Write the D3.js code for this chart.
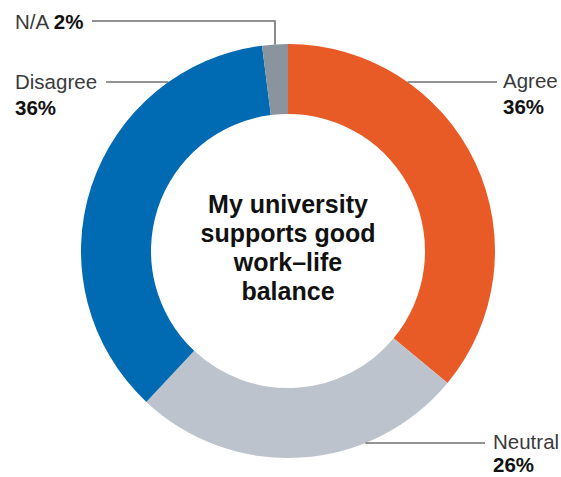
<!DOCTYPE html>
<html>
<head>
<meta charset="utf-8">
<script src="https://cdn.jsdelivr.net/npm/d3@7"></script>
<style>
  html, body { margin: 0; padding: 0; background: #fff; }
  svg { display: block; font-family: "Liberation Sans", Arial, sans-serif; }
</style>
</head>
<body>
<svg id="chart" width="561" height="477"></svg>
<script>
// Survey responses: "My university supports good work–life balance"
const categories = ["Agree", "Neutral", "Disagree", "N/A"];
const values = [36, 26, 36, 2];
const valueLabels = ["36%", "26%", "36%", "2%"];
const titleLines = ["My university", "supports good", "work–life", "balance"];

const sliceColors = ["#E95B26", "#BCC3CC", "#006AB2", "#8A949F"];

const width = 561, height = 477;
const cx = 288, cy = 251;
const outerR = 207, innerR = 137;

const svg = d3.select("#chart");
const g = svg.append("g").attr("transform", `translate(${cx},${cy})`);

const pie = d3.pie().sort(null).value(d => d.value).startAngle(0).endAngle(2 * Math.PI);
const arc = d3.arc().innerRadius(innerR).outerRadius(outerR);

const data = categories.map((c, i) => ({ name: c, value: values[i], label: valueLabels[i], color: sliceColors[i] }));
const arcs = pie(data);

g.selectAll("path.slice")
  .data(arcs)
  .join("path")
  .attr("class", "slice")
  .attr("d", arc)
  .attr("fill", d => d.data.color);

// Label placement (relative to the page)
const labelLayout = {
  "Agree":    { lineY: 82,  side: "right", lineEnd: 497, textX: 503, y1: 88,  y2: 114 },
  "Neutral":  { lineY: 443, side: "right", lineEnd: 485, textX: 493, y1: 449, y2: 472 },
  "Disagree": { lineY: 82,  side: "left",  lineEnd: 106, textX: 15,  y1: 89,  y2: 115 },
  "N/A":      { lineY: 21,  side: "top",   lineEnd: 92,  textX: 15,  y1: 29 }
};

const lines = svg.append("g")
  .attr("fill", "none")
  .attr("stroke", "#6f6f6f")
  .attr("stroke-width", 1.6);

arcs.forEach(a => {
  const L = labelLayout[a.data.name];
  if (L.side === "top") {
    const mid = (a.startAngle + a.endAngle) / 2;
    const px = cx + outerR * Math.sin(mid);
    const py = cy - outerR * Math.cos(mid);
    lines.append("path").attr("d", `M${L.lineEnd},${L.lineY}H${px}V${py}`);
  } else {
    const dy = L.lineY - cy;
    const dx = Math.sqrt(outerR * outerR - dy * dy);
    const ex = L.side === "right" ? cx + dx : cx - dx;
    lines.append("path").attr("d", `M${ex},${L.lineY}H${L.lineEnd}`);
  }
});

const labels = svg.append("g").attr("font-size", 20.5);
arcs.forEach(a => {
  const L = labelLayout[a.data.name];
  if (L.side === "top") {
    const t = labels.append("text").attr("x", L.textX).attr("y", L.y1);
    t.append("tspan").attr("fill", "#3a3a3a").text(a.data.name + " ");
    t.append("tspan").attr("fill", "#111").attr("font-weight", "bold").text(a.data.label);
  } else {
    labels.append("text").attr("x", L.textX).attr("y", L.y1)
      .attr("fill", "#3a3a3a").text(a.data.name);
    labels.append("text").attr("x", L.textX).attr("y", L.y2)
      .attr("fill", "#111").attr("font-weight", "bold").text(a.data.label);
  }
});

// Centre title
svg.append("g")
  .selectAll("text")
  .data(titleLines)
  .join("text")
  .attr("x", cx)
  .attr("y", (d, i) => 213 + i * 29)
  .attr("text-anchor", "middle")
  .attr("font-size", 25)
  .attr("font-weight", "bold")
  .attr("fill", "#111")
  .text(d => d);
</script>
</body>
</html>
